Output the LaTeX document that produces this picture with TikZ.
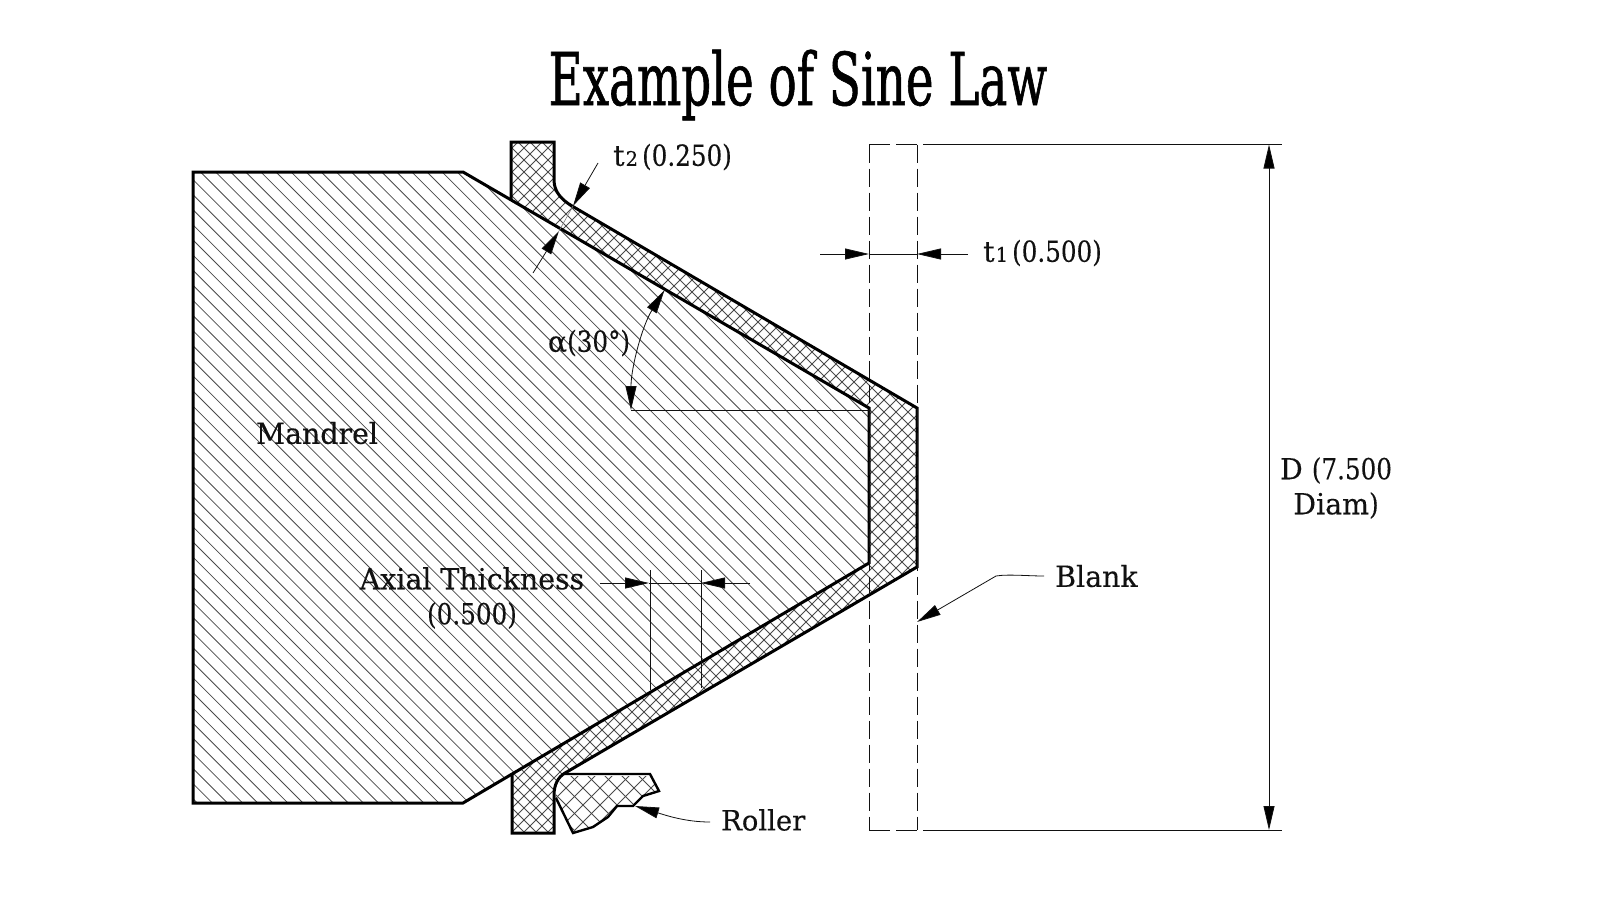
\documentclass[tikz,border=0pt]{standalone}
\usepackage{fontspec}
\setmainfont{DejaVu Serif}[FakeStretch=0.98,FakeBold=0.2]
\newfontfamily\numfont{DejaVu Serif}[FakeStretch=0.85,FakeBold=0.2]
\newfontfamily\titlefont{DejaVu Serif}[FakeStretch=0.64,FakeBold=0.8]
\usetikzlibrary{arrows.meta}
\definecolor{ink}{HTML}{111111}
\definecolor{hatchc}{HTML}{4A4A4A}
\tikzset{
  x=1pt,y=-1pt,
  outline/.style={draw=black,line width=3pt,line join=miter},
  hatchline/.style={draw=hatchc,line width=0.8pt},
  thinline/.style={draw=ink,line width=0.8pt},
  dimline/.style={thinline,-{Triangle[length=24pt,width=11pt,fill=black]}},
  dimboth/.style={thinline,{Triangle[length=24pt,width=11pt,fill=black]}-{Triangle[length=24pt,width=11pt,fill=black]}},
  dashline/.style={draw=ink,line width=1pt,dash pattern=on 18pt off 6pt},
  lbl/.style={text=ink,inner sep=0pt,font=\fontsize{29}{35}\selectfont},
  lblw/.style={lbl,anchor=west},
}
\newcommand{\subsc}[1]{\kern1pt{\fontsize{20}{24}\selectfont #1}\kern4pt}
\begin{document}
\begin{tikzpicture}
\useasboundingbox (0,0) rectangle (1600,900);
\fill[white] (0,0) rectangle (1600,900);

% Hatching
\begin{scope}
  \clip (193,172) -- (463,172) -- (869,408) -- (869,563) -- (463,803) -- (193,803) -- cycle;
  \foreach \c in {-802,-786.9,...,700} \draw[hatchline] (\c+100,100) -- (\c+900,900);
\end{scope}
\begin{scope}
  \clip (511,142) -- (554,142) -- (554,180) .. controls (554,192) and (562,200) .. (572,206)
    -- (917,408) -- (917,567) -- (565,773) .. controls (558,777) and (554,785) .. (554,795)
    -- (554,833) -- (512,833) -- (512,773) -- (869,563) -- (869,408) -- (511,199) -- cycle;
  \foreach \c in {-800,-788,...,700} \draw[hatchline] (\c+100,100) -- (\c+900,900);
  \foreach \c in {300,312,...,1800} \draw[hatchline] (\c-100,100) -- (\c-900,900);
\end{scope}
\begin{scope}
  \clip (565,776) -- (650,776) -- (659,791) -- (643,796) -- (633,806) -- (617,806)
    -- (608,817) -- (593,827) -- (573,833) -- (556,798) .. controls (556,788) and (559,780) .. (565,776) -- cycle;
  \foreach \c in {-800,-783,...,700} \draw[hatchline] (\c+100,100) -- (\c+900,900);
  \foreach \c in {300,317,...,1800} \draw[hatchline] (\c-100,100) -- (\c-900,900);
\end{scope}

% Outlines
\draw[outline] (193,172) -- (463,172) -- (869,408) -- (869,563) -- (463,803) -- (193,803) -- cycle;
\draw[outline] (511,199) -- (511,142) -- (554,142) -- (554,180) .. controls (554,192) and (562,200) .. (572,206)
    -- (917,408) -- (917,567) -- (565,773) .. controls (558,777) and (554,785) .. (554,795)
    -- (554,833) -- (512,833) -- (512,773);
\draw[outline,line width=2.4pt] (565,774) -- (650,774) -- (659,791) -- (643,796) -- (633,806) -- (617,806)
    -- (608,817) -- (593,827) -- (573,833) -- (556,798);

% Named points
\coordinate (rtl) at (869,144.5);
\coordinate (rtr) at (917,144.5);
\coordinate (rbl) at (869,830);
\coordinate (rbr) at (917,830);
\coordinate (extTa) at (923,144.5);
\coordinate (extTb) at (1282,144.5);
\coordinate (extBa) at (923,830);
\coordinate (extBb) at (1282,830);
\coordinate (dTop) at (1269,144.5);
\coordinate (dBot) at (1269,830);
\coordinate (t1la) at (820,254);
\coordinate (t1lb) at (869,254);
\coordinate (t1ra) at (968,254);
\coordinate (t1rb) at (917,254);
\coordinate (t2a) at (598,163);
\coordinate (t2b) at (573,206);
\coordinate (t2c) at (533,273);
\coordinate (t2d) at (559,231);
\coordinate (axa) at (600,583);
\coordinate (axb) at (649,583);
\coordinate (axc) at (750,583);
\coordinate (axd) at (701,583);
\coordinate (vaT) at (650,570);
\coordinate (vaB) at (650,690);
\coordinate (vbT) at (701,570);
\coordinate (vbB) at (701,688);
\coordinate (angS) at (631,410);
\coordinate (angE) at (664.6,290);
\coordinate (angC) at (869,410);
\coordinate (blTip) at (917,622);
\coordinate (blMid) at (996,576);
\coordinate (blEnd) at (1044,576);
\coordinate (roTip) at (635,806);
\coordinate (roEnd) at (710,822);

% Blank position (dashed)
\draw[dashline] (rtl) -- (rbl);
\draw[dashline] (rtr) -- (rbr);
\draw[draw=ink,line width=1pt,dash pattern=on 21pt off 6pt] (rtl) -- (rtr);
\draw[draw=ink,line width=1pt,dash pattern=on 21pt off 6pt] (rbl) -- (rbr);

% Extension lines
\draw[thinline] (extTa) -- (extTb);
\draw[thinline] (extBa) -- (extBb);
\draw[thinline] (vaT) -- (vaB);
\draw[thinline] (vbT) -- (vbB);
\draw[thinline] (angS) -- (angC);
\draw[draw=gray,line width=0.6pt] (t2b) -- (t2d);
\draw[thinline] (t1lb) -- (t1rb);
\draw[thinline] (axb) -- (axd);

% Dimensions
\draw[dimboth] (dTop) -- (dBot);
\draw[dimline] (t1la) -- (t1lb);
\draw[dimline] (t1ra) -- (t1rb);
\draw[dimline] (t2a) -- (t2b);
\draw[dimline] (t2c) -- (t2d);
\draw[dimline] (axa) -- (axb);
\draw[dimline] (axc) -- (axd);
\draw[dimboth] (angS) .. controls (631,368) and (642,326) .. (angE);
\draw[dimline] (blEnd) .. controls (1028,576) and (1008,574) .. (blMid) -- (blTip);
\draw[dimline] (roEnd) .. controls (685,822) and (665,815) .. (roTip);

% Labels
\node[text=black,inner sep=0pt,font=\titlefont\fontsize{73}{82}\selectfont] (title) at (798,85) {Example of Sine Law};
\node[lbl] (mandrel) at (317,433) {Mandrel};
\node[lbl] (alpha) at (589,343) {α{\numfont(30°)}};
\node[lblw] (t2lbl) at (613,157) {t\subsc{2}{\numfont(0.250)}};
\node[lblw] (t1lbl) at (983,253) {t\subsc{1}{\numfont(0.500)}};
\node[lblw] (blank) at (1055,576) {Blank};
\node[lblw,font=\fontsize{28}{34}\selectfont] (roller) at (721,820) {Roller};
\node[lbl,align=center] (axial) at (472,598) {Axial Thickness\\{\numfont(0.500)}};
\node[lbl,align=center] (dlbl) at (1336,488) {D {\numfont(7.500}\\Diam{\numfont)}};
\end{tikzpicture}
\end{document}
